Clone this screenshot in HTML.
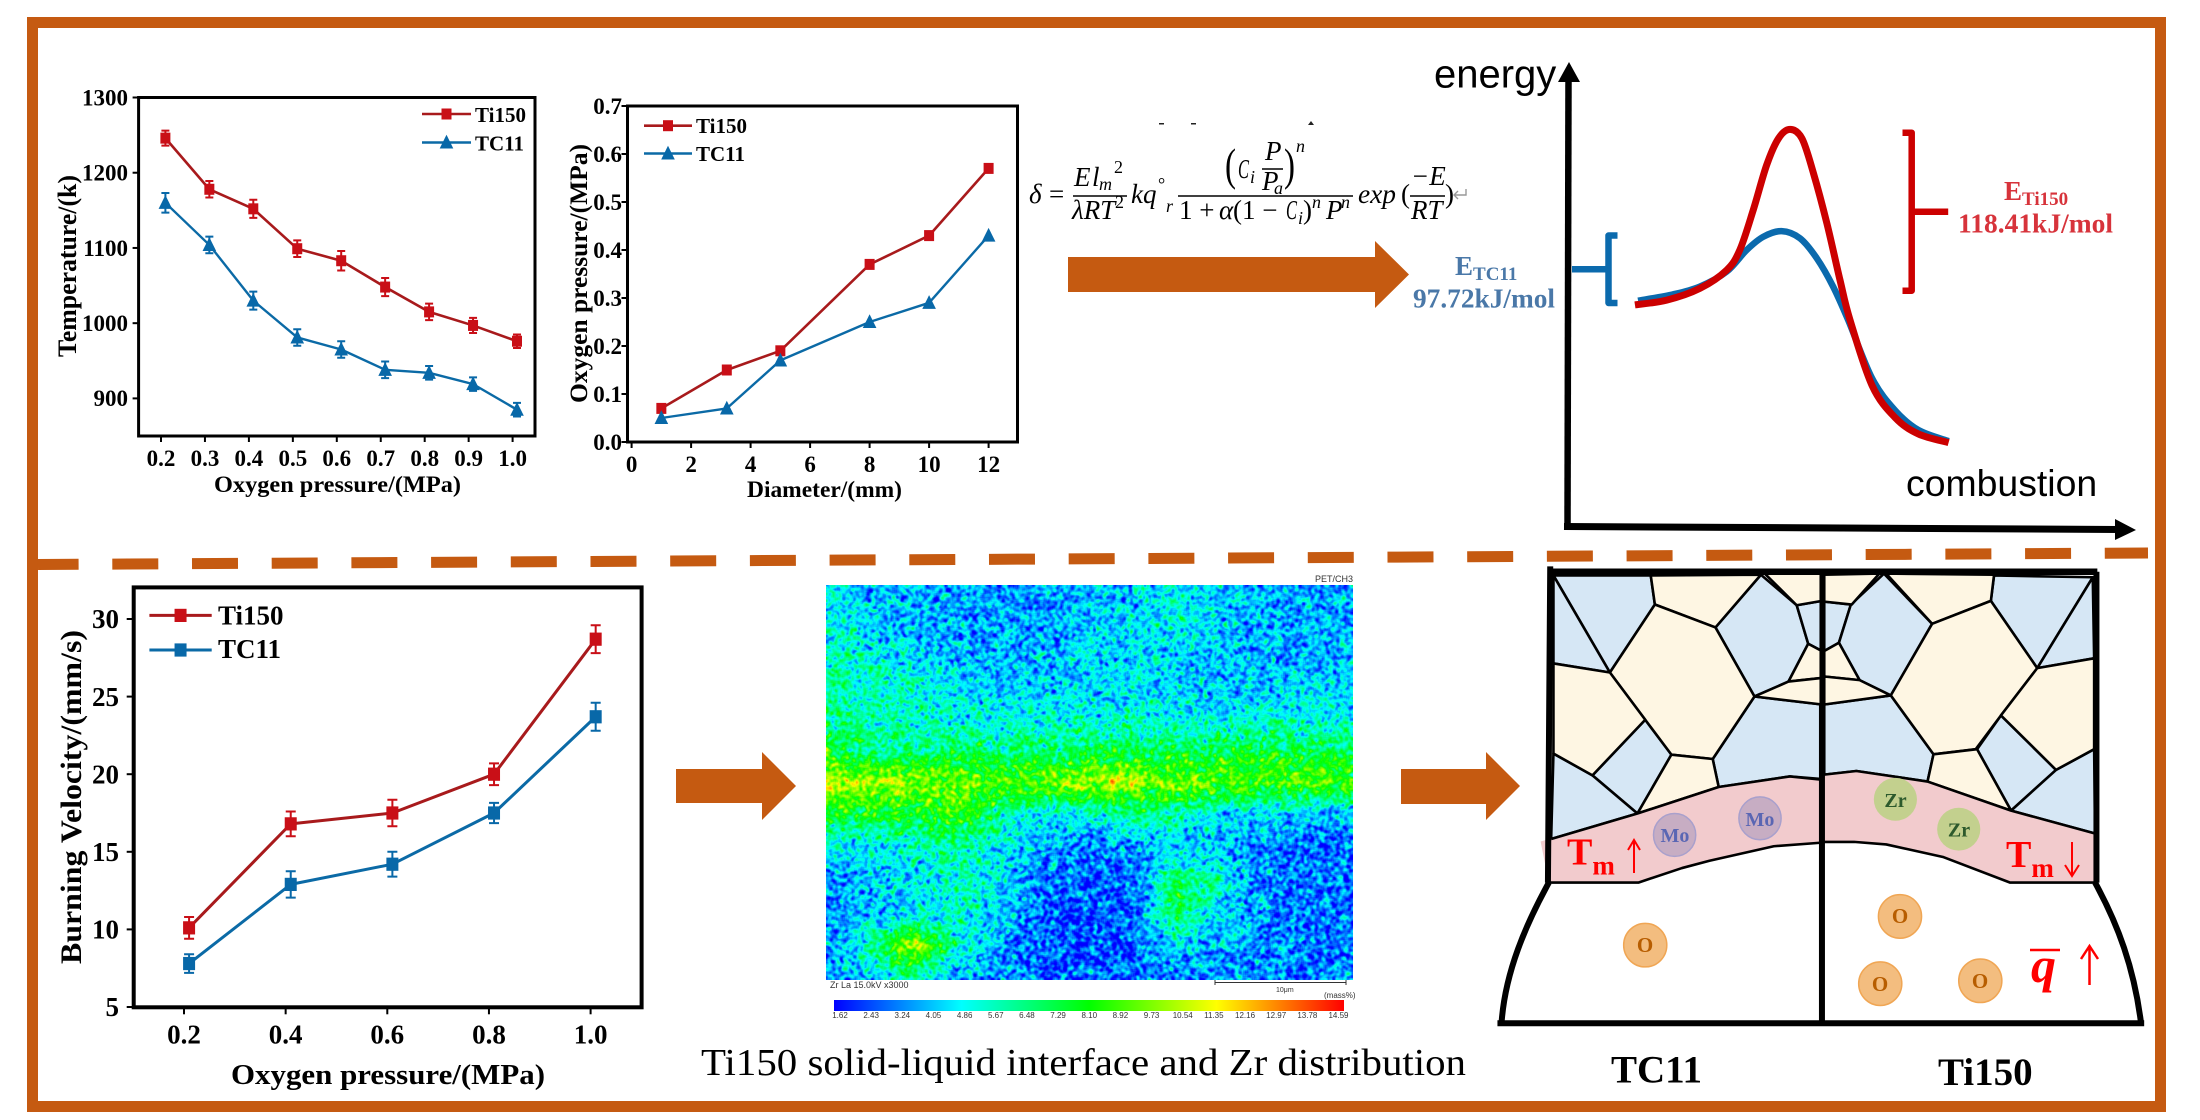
<!DOCTYPE html>
<html lang="en">
<head>
<meta charset="utf-8">
<title>Ti150 and TC11 combustion summary</title>
<style>
html,body{margin:0;padding:0;background:#fff;width:2200px;height:1120px;overflow:hidden}
#stage{position:relative;width:2200px;height:1120px}
#figure{position:absolute;left:0;top:0}
#zr-map{position:absolute;left:826px;top:585px;width:527px;height:395px;image-rendering:auto}
text{font-family:"Liberation Serif",serif}
.b{font-weight:bold}
.f{font-style:italic;font-size:27px}
.r{font-size:27px}
.s{font-style:italic;font-size:18px}
.cell{stroke:#000;stroke-width:2.6;vector-effect:non-scaling-stroke;stroke-linejoin:round}
.wall{fill:none;stroke:#000;vector-effect:non-scaling-stroke;stroke-linejoin:round;stroke-linecap:butt}
</style>
</head>
<body>
<div id="stage">
<svg id="figure" width="2200" height="1120" viewBox="0 0 2200 1120" xmlns="http://www.w3.org/2000/svg">
  <defs>
    <linearGradient id="jet" x1="0" x2="1" y1="0" y2="0">
      <stop offset="0" stop-color="#0000ff"/><stop offset=".25" stop-color="#00ffff"/><stop offset=".5" stop-color="#00ff00"/><stop offset=".75" stop-color="#ffff00"/><stop offset="1" stop-color="#ff0000"/>
    </linearGradient>
  </defs>
  <rect x="32.5" y="22.5" width="2128" height="1084" fill="#fff" stroke="#c55a11" stroke-width="11"/>
  <line x1="38" y1="564.5" x2="2148" y2="553" stroke="#c55a11" stroke-width="11" stroke-dasharray="46 33.7" stroke-dashoffset="5.4"/>

  <g id="chart-temp">
    <text class="b" font-size="26" transform="translate(76,357) rotate(-90)" textLength="182" lengthAdjust="spacingAndGlyphs">Temperature/(k)</text>
    <text class="b" font-size="23" x="214" y="492" textLength="247" lengthAdjust="spacingAndGlyphs">Oxygen pressure/(MPa)</text>
  </g>
  <g id="chart-diameter">
    <text class="b" font-size="25" transform="translate(587,403) rotate(-90)" textLength="259" lengthAdjust="spacingAndGlyphs">Oxygen pressure/(MPa)</text>
    <text class="b" font-size="23" x="747" y="497" textLength="155" lengthAdjust="spacingAndGlyphs">Diameter/(mm)</text>
  </g>
  <g id="chart-velocity">
    <text class="b" font-size="30" transform="translate(81,964) rotate(-90)" textLength="334" lengthAdjust="spacingAndGlyphs">Burning Velocity/(mm/s)</text>
    <text class="b" font-size="29" x="231" y="1084" textLength="314" lengthAdjust="spacingAndGlyphs">Oxygen pressure/(MPa)</text>
  </g>

  <g>
    <g fill="#222"><rect x="1159" y="123" width="5" height="1.5"/><rect x="1191" y="123" width="5" height="1.5"/><path d="M1308 125l3-4 3 4z"/></g>
    <text class="f" x="1029" y="203">δ</text><text class="r" x="1049" y="203">=</text>
    <line x1="1073" x2="1127" y1="196" y2="196" stroke="#000" stroke-width="1.6"/>
    <text class="f" x="1074" y="186">E</text><text class="f" x="1092" y="186">l</text><text class="s" x="1099" y="190">m</text><text font-size="18" x="1114" y="173">2</text>
    <text class="f" x="1072" y="219">λRT</text><text font-size="18" x="1115" y="208">2</text>
    <text class="f" x="1131" y="203">kq</text><text font-size="18" x="1158" y="190">°</text><text class="s" x="1166" y="212">r</text>
    <line x1="1178" x2="1353" y1="196" y2="196" stroke="#000" stroke-width="1.6"/>
    <text font-size="46" font-weight="normal" x="1225" y="180" textLength="11" lengthAdjust="spacingAndGlyphs">(</text><text class="f" x="1238" y="178" textLength="11" lengthAdjust="spacingAndGlyphs">C</text><text class="s" x="1250" y="183">i</text>
    <line x1="1262" x2="1283" y1="169" y2="169" stroke="#000" stroke-width="1.4"/>
    <text class="f" font-size="25" x="1265" y="160">P</text><text class="f" x="1262" y="190">P</text><text class="s" x="1274" y="194">a</text>
    <text font-size="46" x="1284" y="180" textLength="11" lengthAdjust="spacingAndGlyphs">)</text><text class="s" x="1296" y="152">n</text>
    <text class="r" x="1179" y="219">1 + </text><text class="f" x="1219" y="219">α</text><text class="r" x="1233" y="219">(1 − </text><text class="f" x="1286" y="219" textLength="11" lengthAdjust="spacingAndGlyphs">C</text><text class="s" x="1298" y="224">i</text><text class="r" x="1303" y="219">)</text><text class="s" x="1312" y="208">n</text><text class="f" x="1326" y="219">P</text><text class="s" x="1341" y="208">n</text>
    <text class="f" x="1358" y="203" textLength="38" lengthAdjust="spacingAndGlyphs">exp</text><text class="r" x="1401" y="203">(</text>
    <line x1="1410" x2="1445" y1="196" y2="196" stroke="#000" stroke-width="1.6"/>
    <text class="f" x="1411" y="185">−E</text><text class="f" x="1411" y="219">RT</text><text class="r" x="1445" y="203">)</text>
    <path d="M1466 189v6h-12m4-4l-4 4 4 4" fill="none" stroke="#999" stroke-width="1.4"/>
  </g>

  <polygon points="1068,257 1375,257 1375,241 1409,274.5 1375,308 1375,292 1068,292" fill="#c55a11"/>
  <polygon points="676,769 762,769 762,752 796,786 762,820 762,803 676,803" fill="#c55a11"/>
  <polygon points="1401,769 1486,769 1486,752 1520,786 1486,820 1486,804 1401,804" fill="#c55a11"/>

  <g id="energy-diagram">
    <line x1="1568.5" y1="78" x2="1567.5" y2="530" stroke="#000" stroke-width="6.5"/>
    <polygon points="1569,62 1580,82 1558,82" fill="#000"/>
    <line x1="1564" y1="526.5" x2="2118" y2="529.5" stroke="#000" stroke-width="7"/>
    <polygon points="2136,530 2115,519 2115,540" fill="#000"/>
    <text x="1434" y="87.5" font-size="40" style="font-family:'Liberation Sans',sans-serif">energy</text>
    <text x="1906" y="496" font-size="37.4" style="font-family:'Liberation Sans',sans-serif">combustion</text>
    <path d="M1617.5 235.5h-9v67.5h9M1572 269.3h36.5" fill="none" stroke="#0b6aad" stroke-width="6.5" stroke-linejoin="round"/>
    <path d="M1902.5 132.7h9.2v158h-9.2M1911.7 211.7h36.5" fill="none" stroke="#cc0000" stroke-width="6.5" stroke-linejoin="round"/>
    <g id="energy-curves"></g>
    <text class="b" font-size="27" fill="#4a78a8" x="1455" y="275">E<tspan font-size="19" dy="5">TC11</tspan></text>
    <text class="b" font-size="27" fill="#4a78a8" x="1413" y="307.5" textLength="142" lengthAdjust="spacingAndGlyphs">97.72kJ/mol</text>
    <text class="b" font-size="27" fill="#d7333b" x="2004" y="200">E<tspan font-size="19" dy="5">Ti150</tspan></text>
    <text class="b" font-size="27" fill="#d7333b" x="1958" y="232.5" textLength="155" lengthAdjust="spacingAndGlyphs">118.41kJ/mol</text>
  </g>

  <g>
    <text x="1315" y="582" font-size="9" fill="#333" style="font-family:'Liberation Sans',sans-serif">PET/CH3</text>
    <text x="830" y="988" font-size="9" fill="#333" style="font-family:'Liberation Sans',sans-serif">Zr La 15.0kV  x3000</text>
    <path d="M1215 980v5M1215 982.5h131M1346 980v5" stroke="#333" stroke-width="1" fill="none"/>
    <text x="1276" y="992" font-size="7" fill="#333" style="font-family:'Liberation Sans',sans-serif">10μm</text>
    <text x="1324" y="998" font-size="8" fill="#333" style="font-family:'Liberation Sans',sans-serif">(mass%)</text>
    <rect x="834" y="1000" width="510" height="11" fill="url(#jet)"/>
    <g id="colorbar-labels"></g>
  </g>
  <text x="701" y="1075" font-size="38" textLength="765" lengthAdjust="spacingAndGlyphs">Ti150 solid-liquid interface and Zr distribution</text>

  <g>
    <g transform="translate(1480,550) scale(.459,.3635)">
      <path d="M150 915C100 1030 55 1160 45 1300H1440C1425 1150 1390 1030 1340 915Z" fill="#fff"/>
      <g fill="#d6e7f5" class="cell-blue">
        <polygon class="cell" points="160,70 372,70 381,150 283,337"/>
        <polygon class="cell" points="160,70 283,337 160,312"/>
        <polygon class="cell" points="612,68 690,152 715,258 672,362 598,403 513,213"/>
        <polygon class="cell" points="690,152 745,140 745,278 715,258"/>
        <polygon class="cell" points="360,467 417,563 343,725 245,620"/>
        <polygon class="cell" points="160,560 245,620 343,725 155,795"/>
        <polygon class="cell" points="598,403 745,425 745,630 675,623 520,652 507,575"/>
        <polygon class="cell" points="750,142 808,150 782,255 750,278"/>
        <polygon class="cell" points="880,65 985,203 895,400 827,358 782,255 808,150"/>
        <polygon class="cell" points="1120,70 1335,75 1214,325 1113,140"/>
        <polygon class="cell" points="1335,75 1338,298 1214,325"/>
        <polygon class="cell" points="1135,455 1255,605 1157,717 1083,548"/>
        <polygon class="cell" points="1338,548 1340,780 1157,717 1255,605"/>
        <polygon class="cell" points="750,425 895,400 988,562 975,637 820,608 750,618"/>
      </g>
      <g fill="#fef6e3">
        <polygon class="cell" points="372,70 612,68 513,213 381,150"/>
        <polygon class="cell" points="618,62 745,62 745,140 690,152"/>
        <polygon class="cell" points="715,258 745,278 745,352 672,362"/>
        <polygon class="cell" points="598,403 672,362 745,352 745,425"/>
        <polygon class="cell" points="381,150 513,213 598,403 507,575 417,563 360,467 283,337"/>
        <polygon class="cell" points="160,312 283,337 360,467 245,620 160,560"/>
        <polygon class="cell" points="417,563 507,575 520,652 343,725"/>
        <polygon class="cell" points="750,68 870,65 810,150 750,142"/>
        <polygon class="cell" points="885,65 1120,68 1113,140 985,203"/>
        <polygon class="cell" points="985,203 1113,140 1214,325 1135,455 1080,548 988,562 895,400"/>
        <polygon class="cell" points="1214,325 1338,298 1338,548 1255,605 1135,455"/>
        <polygon class="cell" points="988,562 1083,548 1157,717 975,637"/>
        <polygon class="cell" points="750,278 782,255 827,358 750,348"/>
        <polygon class="cell" points="750,348 827,358 895,400 750,425"/>
      </g>
      <path d="M132 802L343 725 520 652 675 623 745 632V805L640 815 500 855 440 875 345 915H150Z" fill="#f2cbcd"/>
      <path d="M750 618L820 608 975 637 1157 717 1340 780V915H1155L1010 845 885 810 815 803H750Z" fill="#f2cbcd"/>
      <path class="wall" stroke-width="2.6" d="M155 795L343 725 520 652 675 623 745 632M150 915H345L440 875 500 855 640 815 745 805M750 618L820 608 975 637 1157 717 1340 780M750 803H815L885 810 1010 845 1155 915H1340"/>
      <path class="wall" stroke-width="6.5" d="M148 60H1345"/>
      <path class="wall" stroke-width="6" d="M153 45L148 915M1343 60V915"/>
      <path class="wall" stroke-width="5" d="M745 60V425"/>
      <path class="wall" stroke-width="6" d="M745 425V1300"/>
      <path class="wall" stroke-width="6" d="M150 915C100 1030 55 1160 47 1300M1340 915C1390 1030 1425 1150 1440 1300"/>
      <path class="wall" stroke-width="6" d="M38 1302H1447"/>
      <g fill="#c7adc3" stroke="#a9a0cc" stroke-width="1.5">
        <ellipse cx="424" cy="784" rx="46" ry="59" vector-effect="non-scaling-stroke"/><ellipse cx="610" cy="738" rx="46" ry="59" vector-effect="non-scaling-stroke"/>
      </g>
      <g fill="#c3d08e">
        <ellipse cx="905" cy="686" rx="47" ry="59"/><ellipse cx="1043" cy="768" rx="47" ry="59"/>
      </g>
      <g fill="#f3bd7f" stroke="#f0a654" stroke-width="1.5">
        <ellipse cx="360" cy="1087" rx="47" ry="60" vector-effect="non-scaling-stroke"/><ellipse cx="915" cy="1008" rx="47" ry="60" vector-effect="non-scaling-stroke"/><ellipse cx="872" cy="1193" rx="47" ry="60" vector-effect="non-scaling-stroke"/><ellipse cx="1090" cy="1185" rx="47" ry="60" vector-effect="non-scaling-stroke"/>
      </g>
    </g>
    <g class="b" font-size="20" fill="#5a66b3" text-anchor="middle">
      <text x="1675" y="842">Mo</text><text x="1760" y="826">Mo</text>
    </g>
    <g class="b" font-size="20" fill="#2d5a2c" text-anchor="middle">
      <text x="1895.5" y="807">Zr</text><text x="1959" y="836.5">Zr</text>
    </g>
    <g class="b" font-size="21" fill="#b75d00" text-anchor="middle">
      <text x="1645" y="952">O</text><text x="1900" y="923">O</text><text x="1880" y="991">O</text><text x="1980" y="988">O</text>
    </g>
    <text class="b" font-size="38" fill="#f00" x="1567" y="864.5">T<tspan font-size="27" dy="10">m</tspan></text>
    <path d="M1634 873V841M1628 850L1634 840 1640 850" stroke="#f00" stroke-width="2" fill="none"/>
    <text class="b" font-size="38" fill="#f00" x="2006" y="867">T<tspan font-size="27" dy="10">m</tspan></text>
    <path d="M2072 842V875M2065 865L2072 876 2079 865" stroke="#f00" stroke-width="2" fill="none"/>
    <text class="b" font-size="50" font-style="italic" fill="#f00" x="2031" y="982">q</text>
    <line x1="2030" x2="2060" y1="950" y2="950" stroke="#f00" stroke-width="2.5"/>
    <path d="M2089.5 985V948M2081 959L2089.5 946 2098 959" stroke="#f00" stroke-width="2.5" fill="none"/>
    <text class="b" font-size="39" x="1611" y="1082.5">TC11</text>
    <text class="b" font-size="39" x="1938" y="1085">Ti150</text>
  </g>
</svg>
<canvas id="zr-map" width="527" height="395"></canvas>
</div>
<script>
// Temperature vs oxygen pressure
const tempPressure = [0.21,0.31,0.41,0.51,0.61,0.71,0.81,0.91,1.01];
const tempTi150 = [1246,1178,1152,1099,1083,1048,1015,997,976];
const tempTC11 = [1160,1104,1030,981,965,938,934,919,885];
const tempErrTi150 = [10,11,12,11,13,12,11,10,9];
const tempErrTC11 = [13,11,12,11,11,11,9,9,9];
const tempXTicks = [0.2,0.3,0.4,0.5,0.6,0.7,0.8,0.9,1.0];
const tempYTicks = [900,1000,1100,1200,1300];

// Critical oxygen pressure vs diameter
const diameterValues = [1,3.2,5,8,10,12];
const diameterTi150 = [0.07,0.15,0.19,0.37,0.43,0.57];
const diameterTC11 = [0.05,0.07,0.17,0.25,0.29,0.43];
const diameterXTicks = [0,2,4,6,8,10,12];
const diameterYTicks = [0,0.1,0.2,0.3,0.4,0.5,0.6,0.7];

// Burning velocity vs oxygen pressure
const velocityPressure = [0.21,0.41,0.61,0.81,1.01];
const velocityTi150 = [10.1,16.8,17.5,20,28.7];
const velocityTC11 = [7.8,12.9,14.2,17.5,23.7];
const velocityErrTi150 = [0.7,0.8,0.85,0.7,0.9];
const velocityErrTC11 = [0.6,0.85,0.8,0.65,0.9];
const velocityXTicks = [0.2,0.4,0.6,0.8,1.0];
const velocityYTicks = [5,10,15,20,25,30];

// Energy curves: reaction progress (0-100) and relative energy
const curveProgressTC11 = [0.5,11.7,20.3,28.9,35.3,40.6,46.5,52.4,57.8,63,67.8,75.5,82.9,90.3,100];
const curveEnergyTC11 = [48.1,50.2,52.8,57.8,65,69.4,71.3,68.9,62.2,52.8,41.7,22.2,11.5,5,1.3];
const curveProgressTi150 = [-0.5,9.7,20.3,28.9,33.1,37.4,41.7,45.5,49.2,53,56.7,61,65.2,68.4,75.5,82.9,90.3,100];
const curveEnergyTi150 = [46.7,48.3,52.2,58.3,65,78.3,93.3,102.2,105.2,102.2,90.6,73.9,55,41.7,19.8,9.1,3.7,0.8];

// Zr map: local concentration (fraction of colour scale x100)
const zrMapLevels = [
 [24,17,17,17,17,17,19,21,23,21,17,15,17],
 [28,21,17,16,16,17,21,25,25,21,17,17,19],
 [34,27,21,17,17,17,21,23,23,19,17,17,19],
 [34,31,27,23,19,19,21,23,21,19,19,21,21],
 [35,32,30,28,26,28,28,28,26,25,27,27,25],
 [48,36,36,38,36,37,42,41,40,42,44,44,44],
 [68,66,64,62,56,60,68,66,60,58,56,56,56],
 [48,46,46,54,34,26,26,36,30,22,20,20,20],
 [24,24,26,36,24,14,11,14,22,18,12,11,10],
 [16,18,22,32,24,12,8,9,42,30,14,12,11],
 [14,18,24,28,20,10,8,10,42,22,14,12,12],
 [12,34,68,28,16,10,9,10,18,18,14,13,13],
 [12,22,30,18,14,10,8,10,14,14,13,13,14]
];
const colorbarLabels = ['1.62','2.43','3.24','4.05','4.86','5.67','6.48','7.29','8.10','8.92','9.73','10.54','11.35','12.16','12.97','13.78','14.59'];

const NS = 'http://www.w3.org/2000/svg';
const RED_LINE = '#a81a1c', RED_MARK = '#c90f17', BLUE_LINE = '#0b6aa6', BLUE_MARK = '#0868a8';

function el(tag, attrs, parent){
  const n = document.createElementNS(NS, tag);
  for (const k in attrs) n.setAttribute(k, attrs[k]);
  parent.appendChild(n);
  return n;
}
function linear(d0, d1, r0, r1){
  return v => r0 + (v - d0) * (r1 - r0) / (d1 - d0);
}
function marker(parent, shape, cx, cy, s, fill){
  let m;
  if (shape === 'square') {
    m = el('rect', {x: cx - s/2, y: cy - s*0.55, width: s, height: s*1.1, fill: fill}, parent);
  } else {
    m = el('polygon', {points: (cx)+','+(cy - s*0.7)+' '+(cx + s*0.62)+','+(cy + s*0.55)+' '+(cx - s*0.62)+','+(cy + s*0.55), fill: fill}, parent);
  }
  return m;
}
function drawSeries(g, name, xs, ys, errs, sx, sy, color, markColor, shape, size, lw, cap){
  const series = el('g', {}, g);
  
  
  const pts = xs.map((x, i) => sx(x) + ',' + sy(ys[i])).join(' ');
  const line = el('polyline', {points: pts, fill: 'none', stroke: color, 'stroke-width': lw, 'stroke-linejoin': 'round'}, series);
  
  
  xs.forEach((x, i) => {
    if (errs) {
      const px = sx(x), hi = sy(ys[i] + errs[i]), lo = sy(ys[i] - errs[i]);
      const bar = el('path', {d: 'M'+(px-cap)+' '+hi+'H'+(px+cap)+'M'+px+' '+hi+'V'+lo+'M'+(px-cap)+' '+lo+'H'+(px+cap), stroke: markColor, 'stroke-width': 2, fill: 'none'}, series);
      
      
    }
    const m = marker(series, shape, sx(x), sy(ys[i]), size, markColor);
    
    
  });
}
function drawAxes(g, box, sx, sy, xTicks, yTicks, fmtX, fmtY, fs, xBase, yRight, frameW, tickLen){
  const frame = el('rect', {x: box.l, y: box.t, width: box.r - box.l, height: box.b - box.t, fill: 'none', stroke: '#000', 'stroke-width': frameW}, g);
  
  
  xTicks.forEach(v => {
    const t = el('line', {x1: sx(v), x2: sx(v), y1: box.b, y2: box.b + tickLen, stroke: '#000', 'stroke-width': 2}, g);
    
    
    const l = el('text', {x: sx(v), y: xBase, 'text-anchor': 'middle', 'font-size': fs, 'font-weight': 'bold'}, g);
    l.textContent = fmtX(v);
    
    
  });
  yTicks.forEach(v => {
    const t = el('line', {x1: box.l - tickLen, x2: box.l, y1: sy(v), y2: sy(v), stroke: '#000', 'stroke-width': 2}, g);
    
    
    const l = el('text', {x: yRight, y: sy(v) + fs * 0.34, 'text-anchor': 'end', 'font-size': fs, 'font-weight': 'bold'}, g);
    l.textContent = fmtY(v);
    
    
  });
}
function drawLegend(g, x0, x1, y, textX, textOff, label, color, markColor, shape, size, lw, fs){
  const e = el('g', {}, g);
  
  
  el('line', {x1: x0, x2: x1, y1: y, y2: y, stroke: color, 'stroke-width': lw}, e);
  marker(e, shape, (x0 + x1) / 2, y, size, markColor);
  const t = el('text', {x: textX, y: y + textOff, 'font-size': fs, 'font-weight': 'bold'}, e);
  t.textContent = label;
}

// Temperature chart
(function(){
  const g = document.getElementById('chart-temp');
  const sx = linear(0.2, 1.0, 161, 512.6), sy = linear(900, 1300, 398.4, 97.5);
  drawAxes(g, {l:138.6, r:535, t:97.5, b:436}, sx, sy, tempXTicks, tempYTicks, v => v.toFixed(1), v => String(v), 23, 466, 128, 3, 6);
  drawSeries(g, 'ti150-temperature', tempPressure, tempTi150, tempErrTi150, sx, sy, RED_LINE, RED_MARK, 'square', 10, 2.6, 4);
  drawSeries(g, 'tc11-temperature', tempPressure, tempTC11, tempErrTC11, sx, sy, BLUE_LINE, BLUE_MARK, 'tri', 11, 2.4, 4);
  drawLegend(g, 422, 471, 114, 475, 8, 'Ti150', RED_LINE, RED_MARK, 'square', 10, 2.6, 21);
  drawLegend(g, 422, 471, 142.5, 475, 8, 'TC11', BLUE_LINE, BLUE_MARK, 'tri', 11, 2.4, 21);
})();

// Diameter chart
(function(){
  const g = document.getElementById('chart-diameter');
  const sx = linear(0, 12, 631.6, 988.6), sy = linear(0, 0.7, 442, 106);
  drawAxes(g, {l:627.5, r:1017.5, t:106, b:442}, sx, sy, diameterXTicks, diameterYTicks, v => String(v), v => v.toFixed(1), 23, 472, 622, 3, 6);
  drawSeries(g, 'ti150-critical-pressure', diameterValues, diameterTi150, null, sx, sy, RED_LINE, RED_MARK, 'square', 10, 2.6, 0);
  drawSeries(g, 'tc11-critical-pressure', diameterValues, diameterTC11, null, sx, sy, BLUE_LINE, BLUE_MARK, 'tri', 11, 2.4, 0);
  drawLegend(g, 644, 692, 125.7, 696, 7.5, 'Ti150', RED_LINE, RED_MARK, 'square', 10, 2.6, 21);
  drawLegend(g, 644, 692, 153.5, 696, 7.5, 'TC11', BLUE_LINE, BLUE_MARK, 'tri', 11, 2.4, 21);
})();

// Velocity chart
(function(){
  const g = document.getElementById('chart-velocity');
  const sx = linear(0.2, 1.0, 184, 590.6), sy = linear(5, 30, 1007, 619);
  drawAxes(g, {l:133.7, r:641.6, t:587.4, b:1007.3}, sx, sy, velocityXTicks, velocityYTicks, v => v.toFixed(1), v => String(v), 27, 1043.6, 119, 4, 7);
  drawSeries(g, 'ti150-velocity', velocityPressure, velocityTi150, velocityErrTi150, sx, sy, RED_LINE, RED_MARK, 'square', 12, 3, 5);
  drawSeries(g, 'tc11-velocity', velocityPressure, velocityTC11, velocityErrTC11, sx, sy, BLUE_LINE, BLUE_MARK, 'square', 12, 3, 5);
  drawLegend(g, 149.4, 211.7, 615.4, 218, 9, 'Ti150', RED_LINE, RED_MARK, 'square', 12, 3, 27);
  drawLegend(g, 149.4, 211.7, 650, 218, 8, 'TC11', BLUE_LINE, BLUE_MARK, 'square', 12, 3, 27);
})();

// Energy curves
(function(){
  const g = document.getElementById('energy-curves');
  const sx = linear(0, 100, 1636.5, 1948.6), sy = linear(0, 100, 445, 145);
  function smooth(px, py){
    const p = px.map((x, i) => [sx(x), sy(py[i])]);
    let d = 'M' + p[0][0] + ' ' + p[0][1];
    for (let i = 0; i < p.length - 1; i++) {
      const a = p[Math.max(0, i-1)], b = p[i], c = p[i+1], e = p[Math.min(p.length-1, i+2)];
      d += 'C' + (b[0] + (c[0]-a[0])/6) + ' ' + (b[1] + (c[1]-a[1])/6) + ' ' + (c[0] - (e[0]-b[0])/6) + ' ' + (c[1] - (e[1]-b[1])/6) + ' ' + c[0] + ' ' + c[1];
    }
    return d;
  }
  const blue = el('path', {d: smooth(curveProgressTC11, curveEnergyTC11), fill: 'none', stroke: '#0b6aad', 'stroke-width': 6.5}, g);
  
  
  const red = el('path', {d: smooth(curveProgressTi150, curveEnergyTi150), fill: 'none', stroke: '#cc0000', 'stroke-width': 7}, g);
  
  
})();

// Colorbar labels
(function(){
  const g = document.getElementById('colorbar-labels');
  const sx = linear(0, colorbarLabels.length - 1, 840, 1338.5);
  colorbarLabels.forEach((s, i) => {
    const t = el('text', {x: sx(i), y: 1018, 'text-anchor': 'middle', 'font-size': 8, fill: '#333', style: "font-family:'Liberation Sans',sans-serif"}, g);
    t.textContent = s;
    
    
  });
})();

// Zr map: read levels drive the field; a seeded grain supplies the speckle texture of the micrograph
(function(){
  const c = document.getElementById('zr-map'), ctx = c.getContext('2d');
  const W = c.width, H = c.height, img = ctx.createImageData(W, H);
  let seed = 12345;
  const rnd = () => (seed = (seed * 1664525 + 1013904223) >>> 0) / 4294967296;
  let n = new Float32Array(W * H);
  for (let i = 0; i < n.length; i++) n[i] = rnd() - 0.5;
  for (let pass = 0; pass < 2; pass++) {
    const o = new Float32Array(W * H);
    for (let y = 0; y < H; y++) for (let x = 0; x < W; x++) {
      let s = 0, k = 0;
      for (let dy = -1; dy <= 1; dy++) for (let dx = -1; dx <= 1; dx++) {
        const yy = y + dy, xx = x + dx;
        if (xx >= 0 && yy >= 0 && xx < W && yy < H) { s += n[yy * W + xx]; k++; }
      }
      o[y * W + x] = s / k;
    }
    n = o;
  }
  let sd = 0;
  for (let i = 0; i < n.length; i++) sd += n[i] * n[i];
  sd = Math.sqrt(sd / n.length);
  const rows = zrMapLevels.length - 1, cols = zrMapLevels[0].length - 1;
  const jet = t => {
    t = Math.max(0, Math.min(1, t));
    if (t < .25) return [0, 255 * t / .25, 255];
    if (t < .5) return [0, 255, 255 * (1 - (t - .25) / .25)];
    if (t < .75) return [255 * (t - .5) / .25, 255, 0];
    return [255, 255 * (1 - (t - .75) / .25), 0];
  };
  for (let y = 0; y < H; y++) for (let x = 0; x < W; x++) {
    const fy = y / (H - 1) * rows, fx = x / (W - 1) * cols;
    const r = Math.min(rows - 1, Math.floor(fy)), q = Math.min(cols - 1, Math.floor(fx));
    const ty = fy - r, tx = fx - q;
    const L = zrMapLevels;
    const v = (L[r][q] * (1 - tx) + L[r][q + 1] * tx) * (1 - ty) + (L[r + 1][q] * (1 - tx) + L[r + 1][q + 1] * tx) * ty;
    const col = jet(v / 100 + n[y * W + x] / sd * 0.075);
    const i = (y * W + x) * 4;
    img.data[i] = col[0]; img.data[i + 1] = col[1]; img.data[i + 2] = col[2]; img.data[i + 3] = 255;
  }
  ctx.putImageData(img, 0, 0);
})();
</script>
</body>
</html>
